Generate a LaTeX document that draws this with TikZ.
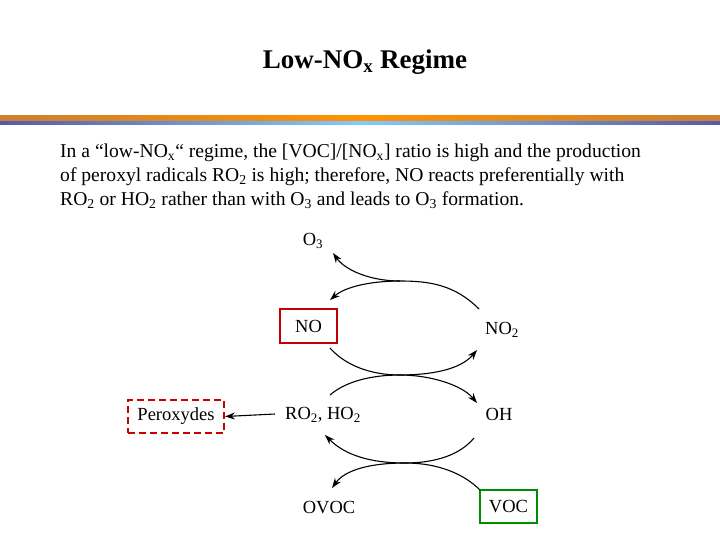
\documentclass[tikz,border=0pt]{standalone}
\usepackage{fontspec}
\usetikzlibrary{arrows.meta}
\setmainfont{Liberation Serif}
\begin{document}
\begin{tikzpicture}[x=1pt,y=-1pt,
  lab/.style={inner sep=1pt,font=\fontsize{18.5}{20}\selectfont},
  arc/.style={line width=1.1pt,-{Stealth[length=10pt,width=7pt]}},
  redbox/.style={draw=red!75!black,line width=2pt,minimum width=57pt,minimum height=34pt,font=\fontsize{18.5}{20}\selectfont},
  grnbox/.style={draw=green!55!black,line width=2pt,minimum width=57pt,minimum height=33pt,font=\fontsize{18.5}{20}\selectfont}]
\useasboundingbox (0,0) rectangle (720,540);
\fill[white] (0,0) rectangle (720,540);
\node[font=\fontsize{27}{30}\selectfont\bfseries] (title) at (365,62) {Low-NO\textsubscript{x} Regime};
\shade[left color=brown!80!orange, right color=brown!80!orange, middle color=orange!85!yellow] (0,116) rectangle (720,121);
\shade[left color=blue!30!gray, right color=blue!30!gray, middle color=blue!40!cyan!50!white] (0,122) rectangle (720,125);
\node[anchor=north west,align=left,font=\fontsize{19.6}{24}\selectfont,inner sep=0] (para) at (60,144)
{In a “low-NO\textsubscript{x}“ regime, the [VOC]/[NO\textsubscript{x}] ratio is high and the production\\
of peroxyl radicals RO\textsubscript{2} is high; therefore, NO reacts preferentially with\\
RO\textsubscript{2} or HO\textsubscript{2} rather than with O\textsubscript{3} and leads to O\textsubscript{3} formation.};
\node[lab] (o3) at (313,241) {O\textsubscript{3}};
\node[redbox] (no) at (308.5,326) {NO};
\node[lab] (no2) at (502,330) {NO\textsubscript{2}};
\node[lab] (ro2) at (323,415) {RO\textsubscript{2}, HO\textsubscript{2}};
\node[lab] (oh) at (499,414) {OH};
\node[lab] (ovoc) at (329,508) {OVOC};
\node[grnbox] (voc) at (508.5,506.5) {VOC};
\node[draw=red!80!black,dash pattern=on 7pt off 4pt,line width=2pt,minimum width=96pt,minimum height=33pt,font=\fontsize{18.5}{20}\selectfont] (per) at (176,416.5) {Peroxydes};
\coordinate (t) at (400,281);
\coordinate (m) at (400,375);
\coordinate (b) at (405,463);
\coordinate (pe) at (275,414);
\draw[arc] (479,309) .. controls (455,285) and (430,281) .. (t) .. controls (370,281) and (345,287) .. (330,300);
\draw[arc] (t) .. controls (370,281) and (345,270) .. (333,253);
\draw[arc] (330,348) .. controls (345,365) and (370,375) .. (m) .. controls (430,375) and (460,370) .. (477,350);
\draw[arc] (330,395) .. controls (345,382) and (370,375) .. (m) .. controls (430,375) and (462,385) .. (477,403);
\draw[arc] (474,438) .. controls (460,455) and (435,463) .. (b) .. controls (370,463) and (345,455) .. (325,435);
\draw[arc] (480,490) .. controls (465,475) and (440,463) .. (b) .. controls (370,463) and (345,470) .. (332,488);
\draw[arc] (pe) -- (per.east);
\end{tikzpicture}
\end{document}
